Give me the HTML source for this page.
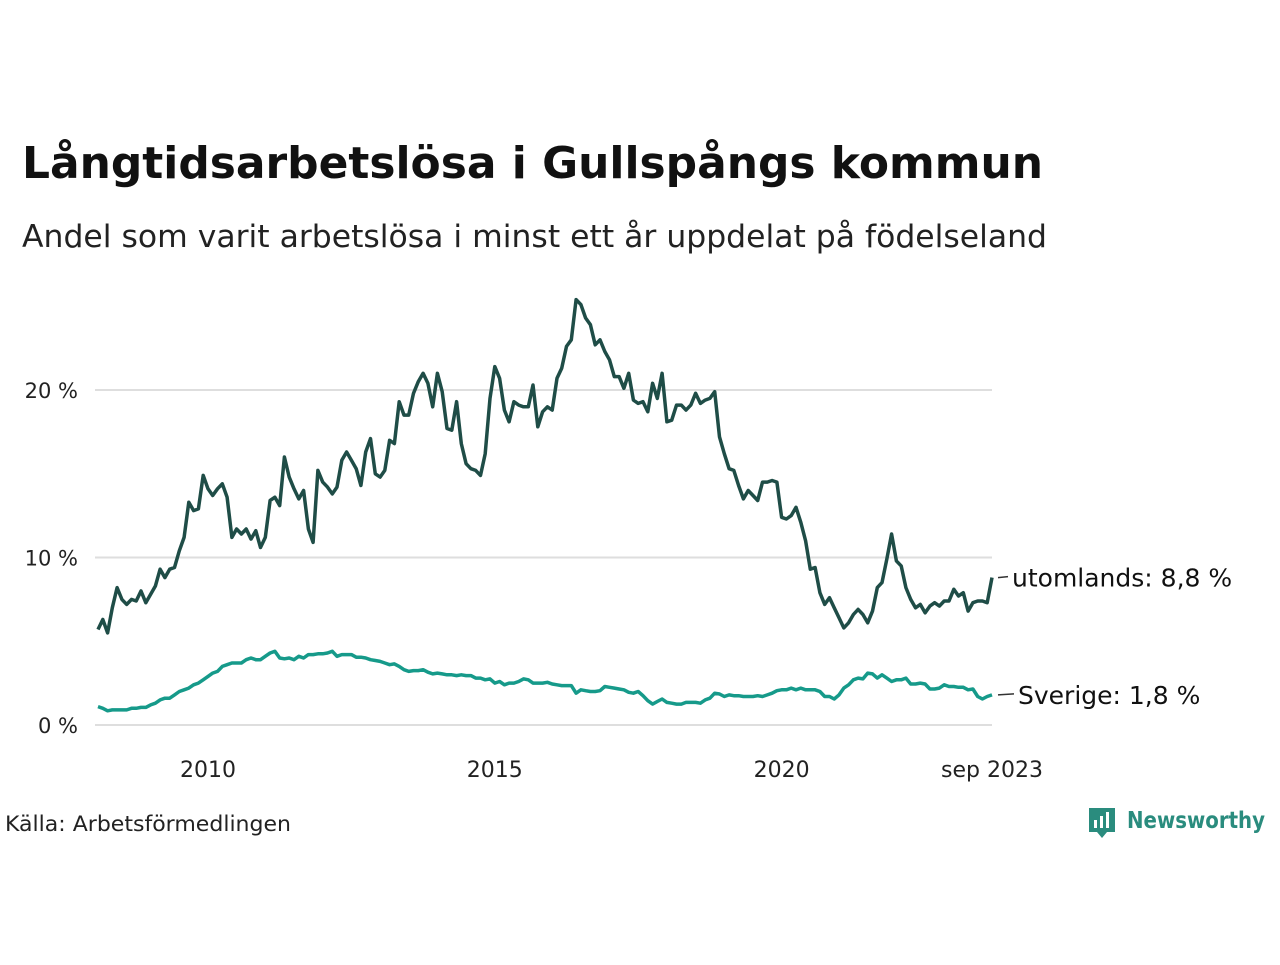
<!DOCTYPE html>
<html><head><meta charset="utf-8"><style>
body{margin:0;background:#fff;width:1280px;height:960px;overflow:hidden;font-family:"Liberation Sans","DejaVu Sans",sans-serif}
svg text{font-family:"DejaVu Sans","Liberation Sans",sans-serif}
</style></head><body>
<svg id="chart" width="1280" height="960" xmlns="http://www.w3.org/2000/svg">
<text x="22" y="178" font-size="44" font-weight="bold" fill="#111" textLength="1021" lengthAdjust="spacingAndGlyphs">Långtidsarbetslösa i Gullspångs kommun</text>
<text x="22" y="247" font-size="31" fill="#222" textLength="1025" lengthAdjust="spacingAndGlyphs">Andel som varit arbetslösa i minst ett år uppdelat på födelseland</text>
<g id="grid"></g>
<g id="lines"></g>
<g id="xaxis"></g>
<text x="5" y="831" font-size="21" fill="#222" textLength="286" lengthAdjust="spacingAndGlyphs">Källa: Arbetsförmedlingen</text>
<g>
<path d="M1089 808 h26 v24 h-8 l-5 6 l-5 -6 h-8 z" fill="#2a8c7e"/>
<rect x="1094" y="820" width="3" height="8" fill="#fff"/><rect x="1100" y="816" width="3" height="12" fill="#fff"/><rect x="1106" y="812" width="3" height="16" fill="#fff"/>
<text x="1127" y="828" font-size="23" font-weight="bold" fill="#2a8c7e" textLength="138" lengthAdjust="spacingAndGlyphs">Newsworthy</text>
</g>
</svg>
<script>
const utomlands=[5.7,6.3,5.5,7.0,8.2,7.5,7.2,7.5,7.4,8.0,7.3,7.8,8.3,9.3,8.8,9.3,9.4,10.4,11.2,13.3,12.8,12.9,14.9,14.1,13.7,14.1,14.4,13.6,11.2,11.7,11.4,11.7,11.1,11.6,10.6,11.2,13.4,13.6,13.1,16.0,14.8,14.1,13.5,14.0,11.7,10.9,15.2,14.5,14.2,13.8,14.2,15.8,16.3,15.8,15.3,14.3,16.3,17.1,15.0,14.8,15.2,17.0,16.8,19.3,18.5,18.5,19.8,20.5,21.0,20.4,19.0,21.0,19.9,17.7,17.6,19.3,16.8,15.6,15.3,15.2,14.9,16.2,19.5,21.4,20.7,18.8,18.1,19.3,19.1,19.0,19.0,20.3,17.8,18.7,19.0,18.8,20.7,21.3,22.6,23.0,25.4,25.1,24.3,23.9,22.7,23.0,22.3,21.8,20.8,20.8,20.1,21.0,19.4,19.2,19.3,18.7,20.4,19.5,21.0,18.1,18.2,19.1,19.1,18.8,19.1,19.8,19.2,19.4,19.5,19.9,17.2,16.2,15.3,15.2,14.3,13.5,14.0,13.7,13.4,14.5,14.5,14.6,14.5,12.4,12.3,12.5,13.0,12.1,11.0,9.3,9.4,7.9,7.2,7.6,7.0,6.4,5.8,6.1,6.6,6.9,6.6,6.1,6.8,8.2,8.5,9.9,11.4,9.8,9.5,8.2,7.5,7.0,7.2,6.7,7.1,7.3,7.1,7.4,7.4,8.1,7.7,7.9,6.8,7.3,7.4,7.4,7.3,8.8];
const sverige=[1.1,1.0,0.85,0.9,0.9,0.9,0.9,1.0,1.0,1.05,1.05,1.2,1.3,1.5,1.6,1.6,1.8,2.0,2.1,2.2,2.4,2.5,2.7,2.9,3.1,3.2,3.5,3.6,3.7,3.7,3.7,3.9,4.0,3.9,3.9,4.1,4.3,4.4,4.0,3.95,4.0,3.9,4.1,4.0,4.2,4.2,4.25,4.25,4.3,4.4,4.1,4.2,4.2,4.2,4.05,4.05,4.0,3.9,3.85,3.8,3.7,3.6,3.65,3.5,3.3,3.2,3.25,3.25,3.3,3.15,3.05,3.1,3.05,3.0,3.0,2.95,3.0,2.95,2.95,2.8,2.8,2.7,2.75,2.5,2.6,2.4,2.5,2.5,2.6,2.75,2.7,2.5,2.5,2.5,2.55,2.45,2.4,2.35,2.35,2.35,1.9,2.1,2.05,2.0,2.0,2.05,2.3,2.25,2.2,2.15,2.1,1.95,1.9,2.0,1.75,1.45,1.25,1.4,1.55,1.35,1.3,1.25,1.25,1.35,1.35,1.35,1.3,1.5,1.6,1.9,1.85,1.7,1.8,1.75,1.75,1.7,1.7,1.7,1.75,1.7,1.8,1.9,2.05,2.1,2.1,2.2,2.1,2.2,2.1,2.1,2.1,2.0,1.7,1.7,1.55,1.8,2.2,2.4,2.7,2.8,2.75,3.1,3.05,2.8,3.0,2.8,2.6,2.7,2.7,2.8,2.45,2.45,2.5,2.45,2.15,2.15,2.2,2.4,2.3,2.3,2.25,2.25,2.1,2.15,1.7,1.55,1.7,1.8];
const yTicks=[0,10,20];
const yTickLabels=["0 %","10 %","20 %"];
const xTickMonths=[23,83,143,187];
const xTickLabels=["2010","2015","2020","sep 2023"];
const seriesLabels=["utomlands: 8,8 %","Sverige: 1,8 %"];
const NS="http://www.w3.org/2000/svg";
const X0=98,X1=992,Y0=725,PPU=16.75;
const n=utomlands.length;
const x=i=>X0+(X1-X0)*i/(n-1);
const y=v=>Y0-v*PPU;
function mk(t,a,p){const e=document.createElementNS(NS,t);for(const k in a)e.setAttribute(k,a[k]);p.appendChild(e);return e;}
const grid=document.getElementById('grid');
yTicks.forEach((t,i)=>{
  const l=mk('line',{x1:95,x2:992,y1:y(t),y2:y(t),stroke:'#dedede','stroke-width':2},grid);
  
  
  const tx=mk('text',{x:78,y:y(t)+8,'text-anchor':'end','font-size':21,fill:'#222'},grid);
  tx.textContent=yTickLabels[i];
  
  
});
const xa=document.getElementById('xaxis');
xTickMonths.forEach((m,i)=>{
  const tx=mk('text',{x:x(m),y:777,'text-anchor':'middle','font-size':22,fill:'#222'},xa);
  tx.textContent=xTickLabels[i];
  
  
});
const lines=document.getElementById('lines');
function draw(d,col,name){
  const p=mk('polyline',{points:d.map((v,i)=>x(i).toFixed(1)+','+y(v).toFixed(1)).join(' '),fill:'none',stroke:col,'stroke-width':3.5,'stroke-linejoin':'round'},lines);
  
  
}
draw(sverige,'#169a8a','line-sverige');
draw(utomlands,'#1f4d47','line-utomlands');
const ends=[[utomlands[n-1],1012,seriesLabels[0]],[sverige[n-1],1018,seriesLabels[1]]];
ends.forEach((e,i)=>{
  const yy=y(e[0]);
  const l=mk('line',{x1:998,x2:e[1]-4,y1:yy,y2:yy-1,stroke:'#333','stroke-width':1.5},lines);
  
  
  const t=mk('text',{x:e[1],y:yy+9,'font-size':25,fill:'#111'},lines);
  t.textContent=e[2];
  
  
});
</script>
</body></html>
